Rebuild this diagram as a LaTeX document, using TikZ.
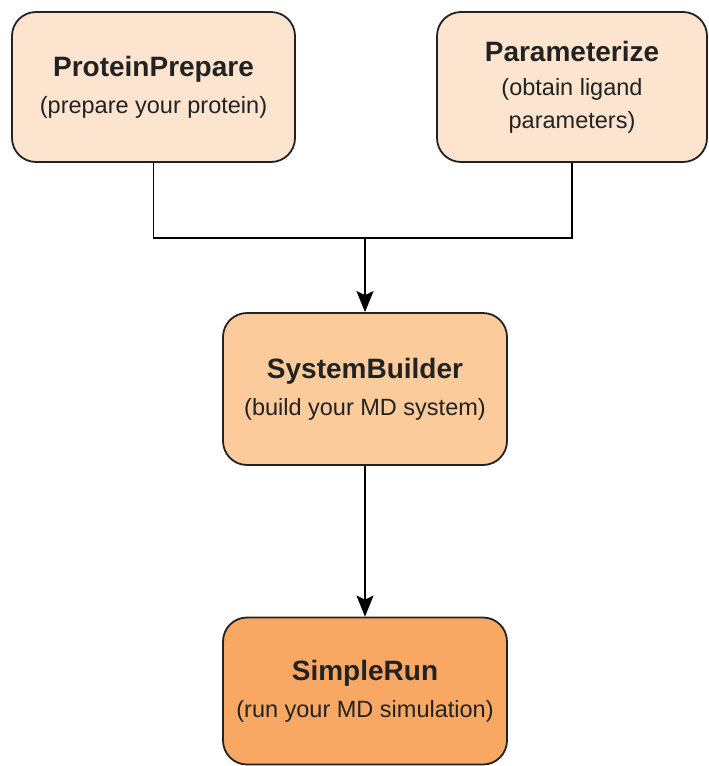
\documentclass[tikz,border=0pt]{standalone}
\usepackage{fontspec}
\setmainfont{Liberation Sans}
\usepackage{xcolor}
\usetikzlibrary{positioning, arrows.meta}

\definecolor{paleorange}{HTML}{FCE4CF}
\definecolor{midorange}{HTML}{FBCB9B}
\definecolor{deeporange}{HTML}{F9A863}
\definecolor{inkgray}{HTML}{222222}

\newcommand{\stagetitle}[1]{{\fontsize{28}{33}\selectfont\bfseries #1}}

\begin{document}
\begin{tikzpicture}[x=1pt, y=-1pt,
		stagebox/.style={draw=inkgray, line width=1.8pt, rounded corners=24pt,
			align=center, inner sep=0pt, text=inkgray, minimum height=150pt,
			font=\fontsize{23.5}{33}\selectfont},
		flowline/.style={draw=black, line width=1.8pt},
		flowarrow/.style={flowline, -{Stealth[length=21pt, width=17pt, inset=4pt]}}]
		
		\useasboundingbox (0,0) rectangle (709,766);
		
		% the two preparation steps
		\node[stagebox, fill=paleorange, minimum width=283pt] (protprep) at (153.5,87)
			{\stagetitle{ProteinPrepare}\\[4pt](prepare your protein)};
		\node[stagebox, fill=paleorange, minimum width=270pt] (param) at (572,87)
			{\stagetitle{Parameterize}\\[1pt](obtain ligand\\parameters)};
		
		% building and running
		\node[stagebox, fill=midorange, minimum width=284pt, minimum height=152pt] (sysbuild) at (365,389)
			{\stagetitle{SystemBuilder}\\[4pt](build your MD system)};
		\node[stagebox, fill=deeporange, minimum width=284pt, minimum height=147pt] (simrun) at (365,691)
			{\stagetitle{SimpleRun}\\[4pt](run your MD simulation)};
		
		\coordinate (join) at (365,238);
		
		\draw[flowline] (protprep.south) |- (join) -| (param.south);
		\draw[flowarrow] (join) -- (sysbuild.north);
		\draw[flowarrow] (sysbuild.south) -- (simrun.north);
\end{tikzpicture}
\end{document}
